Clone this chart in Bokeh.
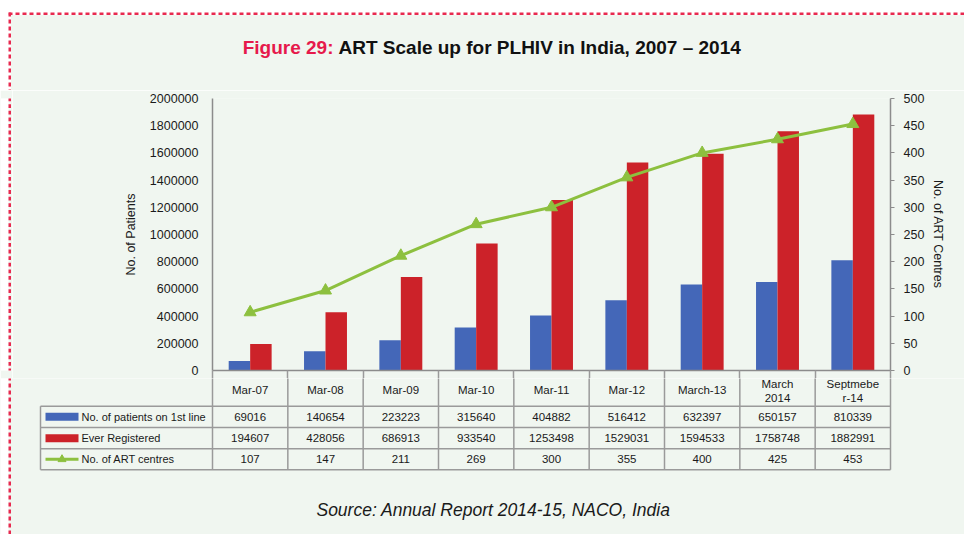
import numpy as np
from bokeh.plotting import figure
from bokeh.layouts import column, row
from bokeh.models import Range1d, LinearAxis, SingleIntervalTicker, FixedTicker, NumeralTickFormatter
from bokeh.core.properties import value
from bokeh.embed import file_html
from bokeh.resources import INLINE

# ---------------- data ----------------
categories = ["Mar-07", "Mar-08", "Mar-09", "Mar-10", "Mar-11", "Mar-12",
              "March-13", "March\n2014", "Septmebe\nr-14"]
first_line = [69016, 140654, 223223, 315640, 404882, 516412, 632397, 650157, 810339]
ever_registered = [194607, 428056, 686913, 933540, 1253498, 1529031, 1594533, 1758748, 1882991]
art_centres = [107, 147, 211, 269, 300, 355, 400, 425, 453]
series_names = ["No. of patients on 1st line", "Ever Registered", "No. of ART centres"]
title_prefix = "Figure 29:"
title_rest = "ART Scale up for PLHIV in India, 2007 \u2013 2014"
source_text = "Source: Annual Report 2014-15, NACO, India"

# ---------------- styles ----------------
BG = "#f0f6f0"
BORDER_RED = "#e8294f"
TITLE_RED = "#e6194b"
BLUE = "#4467b8"
RED = "#cc2229"
GREEN = "#8dc03f"
GRID = "#9a9a9a"
AXIS = "#8c8c8c"
TXT = "#1a1a1a"
FONTNAME = "Liberation Sans"
FONT = value(FONTNAME)

# page layout (page pixel coordinates)
PL, PR, PT, PB = 0, 964, 0, 534
STRIP_R = 12
TITLE_B = 90
CHART_B = 378
FL, FR, FT, FB = 212, 890, 98, 370
n = len(categories)
U = (FR - FL) / n
DASH, GAP = 4.0, 3.0


def bare(fig):
    fig.axis.visible = False
    fig.grid.visible = False
    fig.outline_line_color = None
    return fig


def left_border(fig, y0, y1):
    fig.quad(left=PL, right=8, top=y0 - 5, bottom=y1 + 5, fill_color="white", line_color=None)
    starts = np.arange(12, PB + 10, DASH + GAP)
    starts = starts[(starts + DASH > y0) & (starts < y1)]
    fig.quad(left=8, right=10.5, top=starts, bottom=starts + DASH,
             fill_color=BORDER_RED, line_color=None)


# ---------------- title figure ----------------
tf = bare(figure(width=PR - PL, height=TITLE_B - PT, x_range=Range1d(PL, PR),
                 y_range=Range1d(TITLE_B, PT), output_backend="svg",
                 toolbar_location=None, min_border=0))
tf.background_fill_color = "white"
tf.border_fill_color = "white"
tf.quad(left=10.5, right=PR, top=14.5, bottom=TITLE_B + 5, fill_color=BG, line_color=None)
xs = np.arange(8, PR, DASH + GAP)
tf.quad(left=xs, right=xs + DASH, top=12, bottom=14.5, fill_color=BORDER_RED, line_color=None)
left_border(tf, 12, TITLE_B)
tf.text(x=[333], y=[46.5], text=[title_prefix], text_align="right", text_baseline="middle",
        text_font=FONT, text_font_style="bold", text_font_size="19px", text_color=TITLE_RED)
tf.text(x=[338], y=[46.5], text=[title_rest], text_align="left", text_baseline="middle",
        text_font=FONT, text_font_style="bold", text_font_size="19px", text_color="#111111")

# ---------------- left strip (dashed border) ----------------
sf = bare(figure(width=STRIP_R - PL, height=CHART_B - TITLE_B, x_range=Range1d(PL, STRIP_R),
                 y_range=Range1d(CHART_B, TITLE_B), output_backend="svg",
                 toolbar_location=None, min_border=0))
sf.background_fill_color = BG
sf.border_fill_color = BG
left_border(sf, TITLE_B, CHART_B)

# ---------------- chart figure ----------------
idx = np.arange(n)
p = figure(width=PR - STRIP_R, height=CHART_B - TITLE_B,
           x_range=Range1d(-0.5, n - 0.5), y_range=Range1d(0, 2000000),
           output_backend="svg", toolbar_location=None,
           min_border_left=FL - STRIP_R, min_border_right=PR - FR,
           min_border_top=FT - TITLE_B, min_border_bottom=CHART_B - FB)
p.extra_y_ranges = {"art": Range1d(0, 500)}
p.background_fill_color = BG
p.border_fill_color = BG
p.outline_line_color = None
p.grid.visible = False

bw = 0.285
p.vbar(x=idx - bw / 2, top=first_line, width=bw, fill_color=BLUE, line_color=None)
p.vbar(x=idx + bw / 2, top=ever_registered, width=bw, fill_color=RED, line_color=None)
p.line(idx, art_centres, y_range_name="art", line_color=GREEN, line_width=3)
p.scatter(idx, art_centres, y_range_name="art", marker="triangle", size=12,
          fill_color=GREEN, line_color=GREEN)

# x axis: only the baseline and the table's column separators (as minor ticks)
xa = p.xaxis[0]
xa.ticker = FixedTicker(ticks=[], minor_ticks=[i - 0.5 for i in range(n + 1)])
xa.major_tick_out = 0
xa.major_tick_in = 0
xa.minor_tick_out = CHART_B - FB
xa.minor_tick_in = 0
xa.major_label_standoff = 0
xa.axis_line_color = AXIS
xa.axis_line_width = 1.5
xa.minor_tick_line_color = GRID
xa.minor_tick_line_width = 1.5

ya = p.yaxis[0]
ya.ticker = SingleIntervalTicker(interval=200000, num_minor_ticks=0)
ya.formatter = NumeralTickFormatter(format="0")
ya.major_tick_out = 0
ya.major_tick_in = 0
ya.minor_tick_out = 0
ya.minor_tick_in = 0
ya.major_label_standoff = 14
ya.axis_line_color = AXIS
ya.axis_line_width = 1.5
ya.axis_label = "No. of Patients"
ya.axis_label_standoff = 9

ra = LinearAxis(y_range_name="art", ticker=SingleIntervalTicker(interval=50, num_minor_ticks=0),
                axis_label="No. of ART Centres")
ra.major_tick_out = 4
ra.major_tick_in = 0
ra.minor_tick_out = 0
ra.minor_tick_in = 0
ra.major_label_standoff = 9
ra.axis_line_color = AXIS
ra.axis_line_width = 1.5
ra.major_tick_line_color = AXIS
ra.axis_label_standoff = 4
p.add_layout(ra, "right")

for ax in (ya, ra):
    ax.major_label_text_font = FONTNAME
    ax.major_label_text_font_size = "12.5px"
    ax.major_label_text_color = TXT
    ax.axis_label_text_font = FONTNAME
    ax.axis_label_text_font_size = "12.5px"
    ax.axis_label_text_font_style = "normal"
    ax.axis_label_text_color = TXT

# ---------------- table figure ----------------
tb = bare(figure(width=PR - PL, height=PB - CHART_B, x_range=Range1d(PL, PR),
                 y_range=Range1d(PB, CHART_B), output_backend="svg",
                 toolbar_location=None, min_border=0))
tb.background_fill_color = BG
tb.border_fill_color = BG
left_border(tb, CHART_B, PB)

row_lines = [405.7, 427.0, 448.3, 469.3]
LEG_L = 40
bx = [FL + i * U for i in range(n + 1)]
cx = [FL + (i + 0.5) * U for i in range(n)]
tb.segment(x0=bx, y0=[CHART_B - 2] * len(bx), x1=bx, y1=[row_lines[-1]] * len(bx),
           line_color=GRID, line_width=1.5)
tb.segment(x0=[LEG_L], y0=[row_lines[0]], x1=[LEG_L], y1=[row_lines[-1]],
           line_color=GRID, line_width=1.5)
tb.segment(x0=[LEG_L] * 4, y0=row_lines, x1=[FR] * 4, y1=row_lines,
           line_color=GRID, line_width=1.5)

# header labels (multi-line labels split into separate lines)
HEAD_C = 389.0
LINE_H = 14.0
hx, hy, ht = [], [], []
for c, lab in zip(cx, categories):
    parts = lab.split("\n")
    m = len(parts)
    for k, part in enumerate(parts):
        hx.append(c)
        hy.append(HEAD_C + 1.5 * (m > 1) + (k - (m - 1) / 2) * LINE_H)
        ht.append(part)
tb.text(x=hx, y=hy, text=ht, text_align="center", text_baseline="middle",
        text_font=FONT, text_font_size="11.5px", text_color=TXT)

row_c = [(row_lines[i] + row_lines[i + 1]) / 2 for i in range(3)]
for vals, yc in zip([first_line, ever_registered, art_centres], row_c):
    tb.text(x=cx, y=[yc] * n, text=[str(v) for v in vals], text_align="center",
            text_baseline="middle", text_font=FONT, text_font_size="11.5px", text_color=TXT)

# legend keys
tb.quad(left=[45, 45], right=[78, 78], top=[row_c[0] - 4, row_c[1] - 4],
        bottom=[row_c[0] + 4, row_c[1] + 4], fill_color=[BLUE, RED], line_color=None)
tb.line([45, 78], [row_c[2], row_c[2]], line_color=GREEN, line_width=3)
tb.scatter([61.5], [row_c[2]], marker="triangle", size=8, fill_color=GREEN, line_color=GREEN)
tb.text(x=[81] * 3, y=row_c, text=series_names, text_align="left", text_baseline="middle",
        text_font=FONT, text_font_size="11px", text_color=TXT)

tb.text(x=[493], y=[509.5], text=[source_text], text_align="center", text_baseline="middle",
        text_font=FONT, text_font_style="italic", text_font_size="17.5px", text_color=TXT)

layout = column(tf, row(sf, p), tb)
open("out.html", "w").write(file_html(layout, INLINE))
